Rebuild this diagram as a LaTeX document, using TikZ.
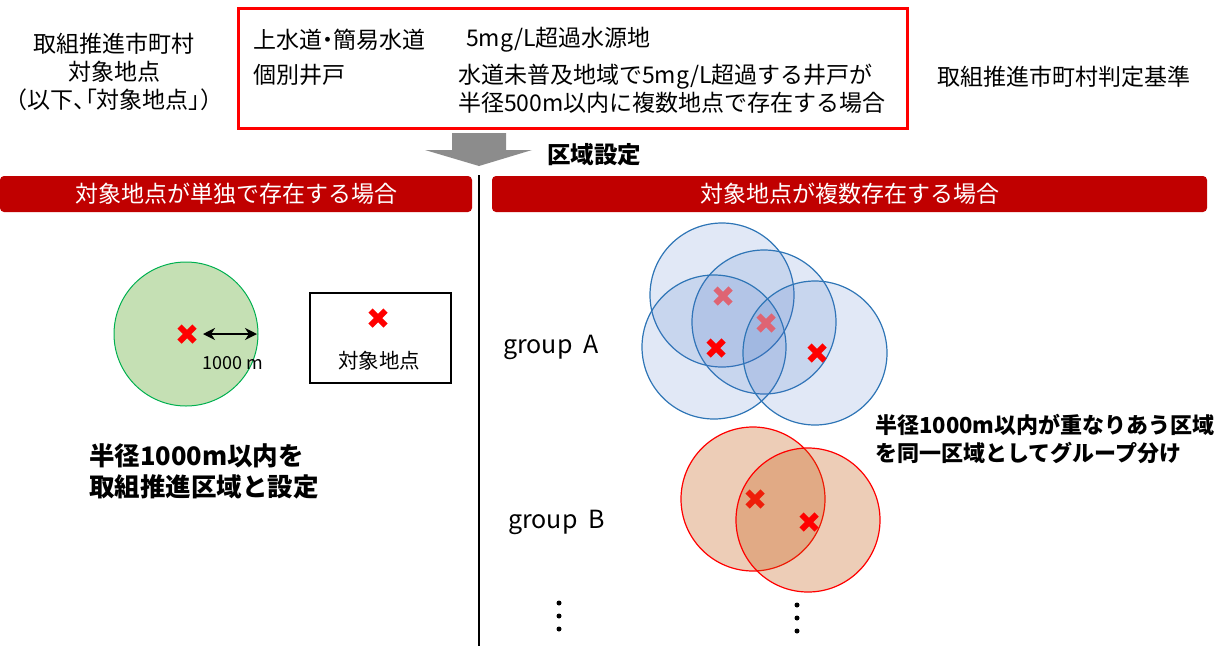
\documentclass[tikz,border=0pt]{standalone}
\usepackage{fontspec}
\setmainfont{Noto Sans CJK JP}
\newfontfamily\paltfont[RawFeature=+palt]{Noto Sans CJK JP}
\usetikzlibrary{arrows.meta}

\definecolor{hdrred}{RGB}{192,0,0}
\definecolor{zonegreen}{RGB}{197,224,180}
\definecolor{zonegreenline}{RGB}{0,176,80}
\definecolor{grpblue}{RGB}{68,114,196}
\definecolor{grpblueline}{RGB}{46,117,182}
\definecolor{grpbrown}{RGB}{197,90,17}
\definecolor{fadedred}{RGB}{222,100,115}
\definecolor{brownred}{RGB}{238,30,10}
\definecolor{arrowgray}{RGB}{140,140,140}

\tikzset{
  header/.style={fill=hdrred, rounded corners=4pt, text=white, minimum height=36pt,
    inner sep=0pt, font=\fontsize{23}{27}\selectfont},
  plain/.style={font=\fontsize{23}{28}\selectfont, inner sep=0pt},
  boldtext/.style={font=\bfseries\fontsize{22}{28}\selectfont, inner sep=0pt, align=left},
  zonesingle/.style={fill=zonegreen, draw=zonegreenline, line width=1pt},
  zonea/.style={fill=grpblue, fill opacity=0.16, draw=grpblueline, draw opacity=1, line width=1.2pt},
  zoneb/.style={fill=grpbrown, fill opacity=0.3, draw=red, draw opacity=1, line width=1.2pt},
  xmark/.pic={\draw[line width=6pt] (-7.5,-7.5) -- (7.5,7.5) (-7.5,7.5) -- (7.5,-7.5);},
}

\begin{document}
\begin{tikzpicture}[x=1pt,y=-1pt]
\useasboundingbox (0,0) rectangle (1220,646);

% criteria box
\node[align=center, plain] (target) at (114,72) {取組推進市町村\\対象地点\\（{\paltfont 以下、「対象地点」}）};
\node[draw=red, line width=3pt, minimum width=669pt, minimum height=120pt, inner sep=0pt] (crit) at (572.5,68) {};
\node[plain, anchor=west] (water) at (253,40) {上水道{\paltfont ・}簡易水道};
\node[plain, anchor=west] (waterrule) at (466,40) {5mg/L超過水源地};
\node[plain, anchor=west] (well) at (253,75) {個別井戸};
\node[plain, anchor=west, align=left] (wellrule) at (458,89) {水道未普及地域で5mg/L超過する井戸が\\半径500m以内に複数地点で存在する場合};
\node[plain] (rule) at (1064,77) {取組推進市町村判定基準};

% arrow down
\fill[arrowgray] (452,133) -- (506,133) -- (506,150) -- (532,150) -- (479,166)
  -- (425,150) -- (452,150) -- cycle;
\node[boldtext, font=\bfseries\fontsize{23.5}{28}\selectfont] (zoneset) at (594,155) {区域設定};

% headers
\node[header, minimum width=472pt] (single) at (236,194) {対象地点が単独で存在する場合};
\node[header, minimum width=715pt] (multi) at (849.5,194) {対象地点が複数存在する場合};
\draw[line width=2pt] (479,175) -- (479,646);

% single case
\draw[zonesingle] (186,334) circle (72);
\pic[red] at (187,334) {xmark};
\draw[{Stealth[length=12pt,width=12pt]}-{Stealth[length=12pt,width=12pt]}, line width=2.6pt] (203,334) -- (257,334);
\node[font=\fontsize{18}{20}\selectfont, inner sep=0pt] (radius) at (233,363) {1000 m};

\node[draw, line width=1.2pt, minimum width=141pt, minimum height=90pt] (legend) at (380.5,338) {};
\pic[red] at (378,318) {xmark};
\node[font=\fontsize{20.5}{22}\selectfont, inner sep=0pt] (legendtext) at (379,361) {対象地点};

\node[boldtext, font=\bfseries\fontsize{25.5}{31}\selectfont, anchor=west] (singlenote) at (89,471) {半径1000m以内を\\取組推進区域と設定};

% group A
\node[plain, font=\fontsize{25}{28}\selectfont, anchor=west] (groupa) at (503,347) {group\ \ A};
\draw[zonea] (722,295) circle (72);
\draw[zonea] (764,322) circle (72);
\draw[zonea] (714,347) circle (72);
\draw[zonea] (815,353) circle (72);
\pic[fadedred] at (723,296) {xmark};
\pic[fadedred] at (766,323) {xmark};
\pic[red] at (716,348) {xmark};
\pic[red] at (817,353) {xmark};

\node[boldtext, anchor=west] (groupnote) at (875,439) {半径1000m以内が重なりあう区域\\を同一区域としてグループ分け};

% group B
\node[plain, font=\fontsize{25}{28}\selectfont, anchor=west] (groupb) at (508,522) {group\ \ B};
\draw[zoneb] (753,499) circle (72);
\draw[zoneb] (808,520) circle (72);
\pic[brownred] at (755,499) {xmark};
\pic[red] at (809,522) {xmark};

% more groups
\foreach \y in {603,616,629} \fill (559,\y) circle (2.5);
\foreach \y in {605,618,631} \fill (797,\y) circle (2.5);

\end{tikzpicture}
\end{document}
